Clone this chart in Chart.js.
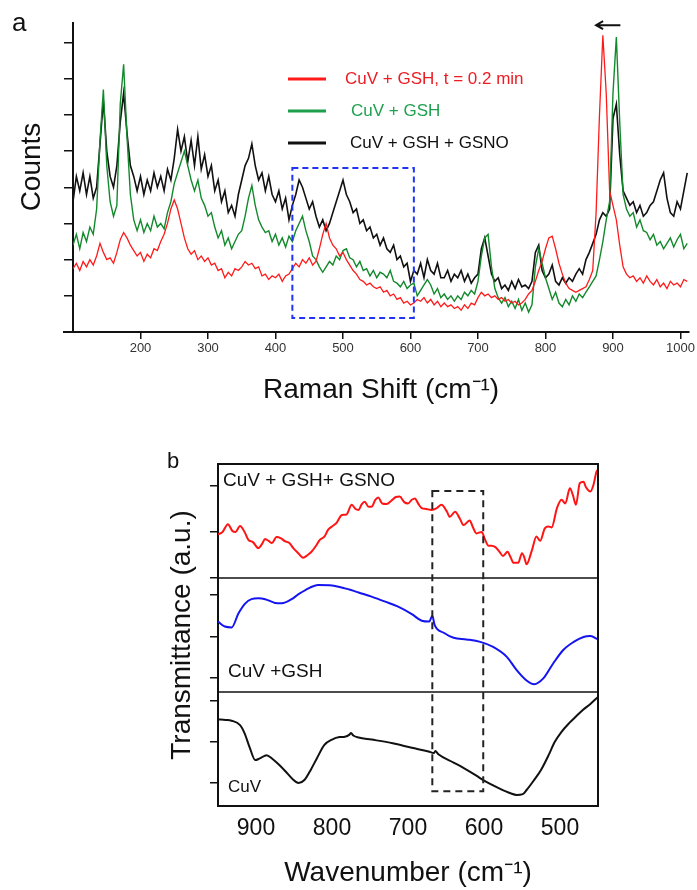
<!DOCTYPE html>
<html>
<head>
<meta charset="utf-8">
<script src="https://cdn.jsdelivr.net/npm/chart.js@4.4.1/dist/chart.umd.min.js"></script>
<style>
  html, body { margin: 0; padding: 0; background: #fff; }
  #page { position: relative; width: 697px; height: 890px; overflow: hidden; }
  canvas { position: absolute; left: 0; }
  #raman { top: 0; width: 697px; height: 420px; }
  #ftir { top: 420px; width: 697px; height: 470px; }
</style>
</head>
<body>
<div id="page">
  <canvas id="raman" width="697" height="420"></canvas>
  <canvas id="ftir" width="697" height="470"></canvas>
</div>
<script>
const FONT = '"Liberation Sans", Arial, sans-serif';

// ---- panel a: Raman, one reading every 5 cm-1 from 100 to 1010 ----
const ramanStart = 100;
const ramanStep = 5;
const ramanTicks = [200, 300, 400, 500, 600, 700, 800, 900, 1000];
const countTicks = [1, 2, 3, 4, 5, 6, 7, 8];
const ramanLabels = ["CuV + GSH, t = 0.2 min", "CuV + GSH", "CuV + GSH + GSNO"];

const ramanRed = [
  1.75, 1.9, 1.7, 1.95, 1.8, 2.0, 1.85, 2.1, 2.45, 2.2,
  2.0, 2.05, 1.9, 2.2, 2.55, 2.75, 2.6, 2.4, 2.25, 2.1,
  2.2, 1.95, 2.15, 2.05, 2.3, 2.25, 2.5, 2.7, 3.0, 3.4,
  3.65, 3.4, 3.0, 2.6, 2.3, 2.15, 2.25, 2.0, 2.1, 1.95,
  2.05, 1.85, 1.9, 1.7, 1.75, 1.5, 1.65, 1.55, 1.75, 1.7,
  1.8, 1.95, 1.85, 1.9, 1.75, 1.8, 1.55, 1.6, 1.45, 1.55,
  1.5, 1.6, 1.4, 1.55, 1.6, 1.75, 1.9, 1.8, 2.0, 1.9,
  2.05, 1.85, 1.95, 2.3, 2.7, 3.0, 2.6, 2.4, 2.3, 2.1,
  2.2, 2.0, 1.85, 1.7, 1.6, 1.45, 1.4, 1.3, 1.35, 1.25,
  1.2, 1.25, 1.1, 1.15, 1.0, 1.05, 0.9, 0.95, 0.8, 0.85,
  0.75, 0.8, 0.9, 0.85, 0.95, 0.8, 0.9, 0.75, 0.85, 0.7,
  0.8, 0.7, 0.75, 0.65, 0.7, 0.6, 0.75, 0.65, 0.8, 0.75,
  0.95, 1.1, 1.0, 1.05, 0.95, 1.0, 0.9, 0.95, 0.85, 0.9,
  0.8, 0.85, 0.75, 0.8, 0.9, 1.05, 1.15, 1.4, 1.7, 1.95,
  2.3, 2.6, 2.65, 2.3, 1.9, 1.6, 1.35, 1.2, 1.15, 1.1,
  1.15, 1.2, 1.25, 1.45, 1.7, 3.3, 6.0, 8.2, 6.6, 3.9,
  3.5, 3.1, 2.4, 1.8, 1.6, 1.5, 1.55, 1.4, 1.5, 1.35,
  1.55, 1.4, 1.3, 1.45, 1.25, 1.35, 1.2, 1.4, 1.3, 1.35,
  1.25, 1.45, 1.4
];

const ramanGreen = [
  2.4, 2.7, 2.3, 2.75, 2.5, 2.9, 2.7, 3.4, 5.3, 6.7,
  4.6, 3.6, 3.2, 3.5, 6.3, 7.4, 5.4, 3.8, 3.1, 2.8,
  3.1, 2.75, 3.0, 2.8, 3.2, 2.9, 3.0, 2.85, 3.3, 3.6,
  4.1, 4.4, 4.7, 5.0, 4.6, 4.2, 3.9, 4.2, 3.7, 3.5,
  3.2, 3.3, 2.9, 2.6, 2.8, 2.4, 2.6, 2.3, 2.5, 2.7,
  2.8, 3.2, 3.7, 4.05, 3.5, 3.1, 2.9, 2.75, 2.8, 2.5,
  2.7, 2.4, 2.6, 2.35, 2.65, 2.5, 2.8, 3.0, 3.2, 2.8,
  2.5, 2.1, 2.0, 1.8, 1.65, 1.8, 1.95, 1.85, 2.1, 2.0,
  2.25, 2.3, 2.05, 2.0, 1.8, 1.95, 1.7, 1.75, 1.55, 1.7,
  1.5, 1.65, 1.6, 1.5, 1.7, 1.4, 1.35, 1.25, 1.4, 1.2,
  1.3, 1.35, 1.0, 1.15, 1.3, 1.45, 1.3, 1.05, 1.2, 0.95,
  1.05, 0.9, 1.0, 0.85, 1.0, 0.9, 1.1, 1.0, 1.15, 1.05,
  1.4, 2.1, 2.6, 2.7, 1.8, 1.2, 0.95, 0.8, 0.95, 0.7,
  0.85, 0.65, 0.9, 0.6, 0.8, 0.55, 0.75, 1.8, 2.3, 1.9,
  1.5, 1.2, 0.9, 1.1, 0.8, 0.7, 0.9, 0.75, 1.0, 0.85,
  1.05, 0.95, 1.1, 1.25, 1.4, 1.55, 2.0, 2.5, 3.1, 3.6,
  6.6, 8.15, 5.8, 3.8, 3.4, 3.2, 3.3, 2.9, 3.1, 2.8,
  2.75, 2.55, 2.7, 2.4, 2.5, 2.3, 2.45, 2.6, 2.35, 2.55,
  2.7, 2.3, 2.45
];

const ramanBlack = [
  3.6, 4.3, 3.9, 4.4, 3.8, 4.3, 3.7, 4.0, 5.2, 6.4,
  5.0, 4.3, 4.0, 4.6, 5.8, 6.6, 5.5, 4.6, 4.3, 3.9,
  4.3, 3.8, 4.2, 3.9, 4.4, 4.0, 4.3, 3.9, 4.5, 4.2,
  4.8, 5.6, 5.0, 5.4, 4.7, 5.3, 4.6, 5.4, 4.5, 4.9,
  4.3, 4.6, 3.9, 4.2, 3.6, 3.9, 3.3, 3.5, 3.2, 3.8,
  4.2, 4.6, 4.8, 5.2, 4.6, 4.2, 4.4, 3.9, 4.3, 3.8,
  3.6, 3.9, 3.4, 3.7, 3.1, 3.5, 3.8, 4.2, 4.0, 3.7,
  3.4, 3.6, 3.2, 2.9, 3.1, 2.8, 3.0, 3.3, 3.6, 3.9,
  4.2, 3.8, 3.6, 3.3, 3.4, 3.0, 3.1, 2.8, 2.9, 2.6,
  2.7, 2.4, 2.6, 2.3, 2.2, 2.4, 2.0, 2.1, 1.8, 1.9,
  1.4, 1.7, 1.6, 1.9, 1.5, 2.0, 1.7, 1.6, 1.9, 1.5,
  1.5, 1.7, 1.4, 1.6, 1.5, 1.7, 1.4, 1.6, 1.35, 1.5,
  1.6, 2.3, 2.6, 2.1, 1.6, 1.4, 1.5, 1.2, 1.3, 1.15,
  1.4, 1.2, 1.45, 1.25, 1.3, 1.2, 1.4, 2.2, 2.4, 1.7,
  1.5, 1.6, 1.85, 1.4, 1.3, 1.5, 1.35, 1.5, 1.4, 1.6,
  1.75, 1.6, 2.0, 2.2, 2.45, 2.7, 3.1, 3.3, 3.2, 3.4,
  5.9, 6.3, 4.9, 3.9, 3.7, 3.5, 3.6, 3.3, 3.5, 3.2,
  3.3, 3.5, 3.6, 3.9, 4.2, 4.4, 3.7, 3.3, 3.2, 3.6,
  3.4, 3.9, 4.4
];

// highlighted window (cm-1 / counts) and the shift arrow
const ramanWindow = { from: 425, to: 605, low: 0.39, high: 4.53 };
const ramanArrow = { from: 911, to: 875, level: 8.48 };

// ---- panel b: FTIR, three stacked traces ----
const ftirTicks = [900, 800, 700, 600, 500];
const ftirLabels = ["CuV + GSH+ GSNO", "CuV +GSH", "CuV"];

const gsnoWave = [950, 944, 937, 931, 927, 921, 915, 910, 904, 897, 892, 888, 883, 879, 873, 867, 862, 856, 851, 845,
  838, 832, 827, 821, 816, 810, 805, 800, 794, 787, 781, 774, 769, 765, 761, 757, 752, 748, 743, 739,
  734, 728, 722, 716, 711, 705, 700, 695, 691, 686, 682, 676, 669, 662, 656, 649, 645, 638, 632, 627,
  619, 614, 610, 603, 599, 594, 590, 585, 580, 575, 569, 565, 561, 555, 550, 547, 544, 537, 531, 526,
  520, 515, 511, 504, 498, 493, 487, 483, 479, 474, 469, 466, 460, 456, 452, 450];
const gsnoT = [0.95, 1.0, 1.17, 1.02, 1.0, 1.13, 1.0, 0.83, 0.78, 0.65, 0.74, 0.85, 0.8, 0.76, 0.89, 0.86, 0.8, 0.76, 0.65, 0.55,
  0.44, 0.5, 0.57, 0.7, 0.83, 0.9, 1.05, 1.12, 1.2, 1.37, 1.38, 1.59, 1.5, 1.48, 1.6, 1.66, 1.55, 1.55, 1.7, 1.75,
  1.62, 1.61, 1.68, 1.76, 1.77, 1.65, 1.62, 1.7, 1.73, 1.6, 1.52, 1.5, 1.48, 1.52, 1.59, 1.45, 1.33, 1.44, 1.3, 1.15,
  1.25, 1.08, 0.97, 1.0, 0.85, 0.7, 0.7, 0.67, 0.58, 0.48, 0.57, 0.45, 0.33, 0.33, 0.54, 0.45, 0.3, 0.6, 0.9, 0.81,
  1.08, 1.12, 1.1, 1.52, 1.7, 1.62, 1.95, 1.8, 1.59, 2.06, 2.09, 1.98, 1.88, 2.02, 2.31, 2.35];

const gshWave = [950, 941, 932, 923, 914, 906, 897, 888, 875, 866, 853, 844, 835, 818, 800, 783, 775, 765, 748, 730,
  713, 695, 682, 672, 668, 665, 653, 640, 623, 605, 588, 570, 557, 544, 534, 522, 509, 496, 482, 469, 460, 450];
const gshT = [1.36, 1.24, 1.22, 1.56, 1.8, 1.9, 1.92, 1.9, 1.81, 1.8, 1.9, 2.02, 2.12, 2.24, 2.23, 2.16, 2.12, 2.06, 1.96, 1.84,
  1.72, 1.54, 1.38, 1.36, 1.5, 1.28, 1.09, 0.97, 0.93, 0.87, 0.75, 0.51, 0.19, -0.06, -0.15, -0.01, 0.35, 0.67, 0.87, 0.99, 1.01, 0.93];

const cuvWave = [950, 940, 932, 921, 915, 908, 901, 895, 886, 879, 870, 862, 852, 844, 836, 828, 820, 810, 800, 790,
  783, 777, 775, 772, 765, 748, 720, 695, 673, 666, 664, 660, 640, 626, 610, 601, 580, 565, 557, 549,
  544, 535, 525, 515, 507, 498, 488, 478, 470, 460, 450];
const cuvT = [1.55, 1.54, 1.52, 1.41, 1.21, 0.85, 0.56, 0.6, 0.68, 0.6, 0.45, 0.3, 0.1, 0.0, 0.08, 0.32, 0.6, 0.93, 1.06, 1.12,
  1.13, 1.18, 1.22, 1.16, 1.11, 1.06, 0.97, 0.86, 0.77, 0.73, 0.78, 0.7, 0.5, 0.36, 0.18, 0.07, -0.13, -0.25, -0.29, -0.27,
  -0.17, 0.05, 0.32, 0.68, 1.0, 1.25, 1.46, 1.64, 1.78, 1.93, 2.1];

const ftirWindow = { from: 668, to: 601, top: 1.89, bottom: -0.2 };

// ---- helpers ----
Chart.defaults.font.family = FONT;
Chart.defaults.color = "#111";

const tickList = (values) => (scale) => { scale.ticks = values.map((value) => ({ value })); };
const forceWidth = (w) => (scale) => { scale.width = w; };
const forceHeight = (h) => (scale) => { scale.height = h; };
const pairUp = (xs, ys) => ys.map((y, i) => ({ x: xs[i], y }));

const ramanShift = ramanRed.map((_, i) => ramanStart + i * ramanStep);

const common = {
  responsive: false,
  animation: false,
  devicePixelRatio: 1,
  plugins: { legend: { display: false }, tooltip: { enabled: false } },
  elements: { point: { radius: 0 } },
};

// ---- panel a decorations ----
const ramanDecor = {
  id: "ramanDecor",
  afterDatasetsDraw(chart) {
    const { ctx, chartArea: area, scales: { x, y } } = chart;
    ctx.save();

    // dashed blue window
    const x1 = x.getPixelForValue(ramanWindow.from);
    const x2 = x.getPixelForValue(ramanWindow.to);
    const y1 = y.getPixelForValue(ramanWindow.high);
    const y2 = y.getPixelForValue(ramanWindow.low);
    ctx.strokeStyle = "#1f35f2";
    ctx.lineWidth = 2;
    ctx.setLineDash([6, 4]);
    ctx.strokeRect(x1, y1, x2 - x1, y2 - y1);
    ctx.setLineDash([]);

    // arrow
    const ax1 = x.getPixelForValue(ramanArrow.from);
    const ax2 = x.getPixelForValue(ramanArrow.to);
    const ay = y.getPixelForValue(ramanArrow.level);
    ctx.strokeStyle = "#111";
    ctx.lineWidth = 2;
    ctx.beginPath();
    ctx.moveTo(ax1, ay);
    ctx.lineTo(ax2, ay);
    ctx.moveTo(ax2 + 7, ay - 4);
    ctx.lineTo(ax2, ay);
    ctx.lineTo(ax2 + 7, ay + 4);
    ctx.stroke();

    // legend
    const colors = ["#ff1a1a", "#1d9f4c", "#111"];
    const textColors = ["#ec1c24", "#1fa150", "#111"];
    const textX = [345, 351, 350];
    ctx.font = `17px ${FONT}`;
    ctx.textBaseline = "middle";
    ctx.textAlign = "left";
    ramanLabels.forEach((label, i) => {
      const ly = 79 + i * 32;
      ctx.strokeStyle = colors[i];
      ctx.lineWidth = 3;
      ctx.beginPath();
      ctx.moveTo(288, ly);
      ctx.lineTo(326, ly);
      ctx.stroke();
      ctx.fillStyle = textColors[i];
      ctx.fillText(label, textX[i], ly);
    });

    // x axis stub left of the y axis
    ctx.strokeStyle = "#111";
    ctx.lineWidth = 2;
    ctx.beginPath();
    ctx.moveTo(63, area.bottom);
    ctx.lineTo(area.left, area.bottom);
    ctx.stroke();

    // panel letter and y title
    ctx.fillStyle = "#111";
    ctx.font = `26px ${FONT}`;
    ctx.textBaseline = "alphabetic";
    ctx.fillText("a", 12, 31);
    ctx.translate(32, 167);
    ctx.rotate(-Math.PI / 2);
    ctx.textAlign = "center";
    ctx.textBaseline = "middle";
    ctx.font = `28px ${FONT}`;
    ctx.fillText("Counts", 0, 0);
    ctx.restore();
  },
};

new Chart(document.getElementById("raman"), {
  type: "line",
  data: {
    datasets: [
      { label: ramanLabels[0], data: pairUp(ramanShift, ramanRed), borderColor: "#ff1a1a", borderWidth: 1.3 },
      { label: ramanLabels[1], data: pairUp(ramanShift, ramanGreen), borderColor: "#128a2c", borderWidth: 1.4 },
      { label: ramanLabels[2], data: pairUp(ramanShift, ramanBlack), borderColor: "#111", borderWidth: 1.6 },
    ],
  },
  options: {
    ...common,
    layout: { padding: { top: 23, right: 5, bottom: 0, left: 0 } },
    scales: {
      x: {
        type: "linear",
        min: 100,
        max: 1013,
        afterBuildTicks: tickList(ramanTicks),
        afterFit: forceHeight(88),
        ticks: { font: { size: 13 }, color: "#333", padding: 2, maxRotation: 0, autoSkip: false, callback: (v) => String(v) },
        grid: { drawOnChartArea: false, color: "#111", lineWidth: 1.5, tickLength: 7 },
        border: { color: "#111", width: 2 },
        title: { display: true, text: "Raman Shift (cm⁻¹)", font: { size: 28 }, color: "#111", padding: { top: 0, bottom: 13 } },
      },
      y: {
        type: "linear",
        min: 0,
        max: 8.54,
        afterBuildTicks: tickList(countTicks),
        afterFit: forceWidth(73),
        ticks: { display: false },
        grid: { drawOnChartArea: false, color: "#111", lineWidth: 1.5, tickLength: 9 },
        border: { color: "#111", width: 2 },
      },
    },
  },
  plugins: [ramanDecor],
});

// ---- panel b decorations ----
const ftirDecor = {
  id: "ftirDecor",
  afterDatasetsDraw(chart) {
    const { ctx, chartArea: area, scales } = chart;
    ctx.save();
    ctx.strokeStyle = "#111";
    ctx.lineWidth = 2;
    ctx.beginPath();
    ctx.moveTo(area.left, area.top);
    ctx.lineTo(area.right, area.top);
    ctx.lineTo(area.right, area.bottom);
    ctx.stroke();

    ctx.lineWidth = 1.5;
    ["yMid", "yBot"].forEach((id) => {
      const yy = scales[id].top;
      ctx.beginPath();
      ctx.moveTo(area.left, yy);
      ctx.lineTo(area.right, yy);
      ctx.stroke();
    });

    // dashed window across the three traces
    const x1 = scales.x.getPixelForValue(ftirWindow.from);
    const x2 = scales.x.getPixelForValue(ftirWindow.to);
    const y1 = scales.yTop.getPixelForValue(ftirWindow.top);
    const y2 = scales.yBot.getPixelForValue(ftirWindow.bottom);
    ctx.strokeStyle = "#222";
    ctx.lineWidth = 2;
    ctx.setLineDash([7, 5]);
    ctx.strokeRect(x1, y1, x2 - x1, y2 - y1);
    ctx.setLineDash([]);

    ctx.fillStyle = "#111";
    ctx.textAlign = "left";
    ctx.textBaseline = "middle";
    ctx.font = `19px ${FONT}`;
    ctx.fillText(ftirLabels[0], area.left + 5, scales.yTop.top + 17);
    ctx.fillText(ftirLabels[1], area.left + 10, scales.yMid.bottom - 20);
    ctx.font = `17px ${FONT}`;
    ctx.fillText(ftirLabels[2], area.left + 10, scales.yBot.bottom - 19);

    ctx.font = `22px ${FONT}`;
    ctx.textBaseline = "alphabetic";
    ctx.fillText("b", 167, 48);
    ctx.restore();
  },
};

const stackedAxis = (min, max, weight, extra = {}) => ({
  type: "linear",
  position: "left",
  stack: "ftir",
  stackWeight: 1,
  weight,
  min,
  max,
  afterBuildTicks: tickList([0, 1, 2]),
  afterFit: forceWidth(218),
  ticks: { display: false },
  grid: { drawOnChartArea: false, color: "#111", lineWidth: 1.5, tickLength: 8 },
  border: { color: "#111", width: 2 },
  ...extra,
});

new Chart(document.getElementById("ftir"), {
  type: "line",
  data: {
    datasets: [
      { data: pairUp(gsnoWave, gsnoT), yAxisID: "yTop", borderColor: "#ff1414", borderWidth: 2 },
      { data: pairUp(gshWave, gshT), yAxisID: "yMid", borderColor: "#1414f0", borderWidth: 2 },
      { data: pairUp(cuvWave, cuvT), yAxisID: "yBot", borderColor: "#111", borderWidth: 2 },
    ],
  },
  options: {
    ...common,
    elements: { point: { radius: 0 }, line: { tension: 0.4, cubicInterpolationMode: "monotone" } },
    layout: { padding: { top: 44, right: 99, bottom: 0, left: 0 } },
    scales: {
      x: {
        type: "linear",
        reverse: true,
        min: 450,
        max: 950,
        afterBuildTicks: tickList(ftirTicks),
        afterFit: forceHeight(84),
        ticks: { font: { size: 23 }, color: "#111", padding: 9, maxRotation: 0, autoSkip: false, callback: (v) => String(v) },
        grid: { drawOnChartArea: false, drawTicks: false },
        border: { color: "#111", width: 2 },
        title: { display: true, text: "Wavenumber (cm⁻¹)", font: { size: 28 }, color: "#111", padding: { top: 0, bottom: 0 } },
      },
      yTop: stackedAxis(0, 2.478, 3),
      yMid: stackedAxis(-0.337, 2.41, 2, {
        title: { display: true, text: "Transmittance (a.u.)", font: { size: 28 }, color: "#111", padding: { top: 165, bottom: 0 } },
      }),
      yBot: stackedAxis(-0.56, 2.22, 1),
    },
  },
  plugins: [ftirDecor],
});
</script>
</body>
</html>
